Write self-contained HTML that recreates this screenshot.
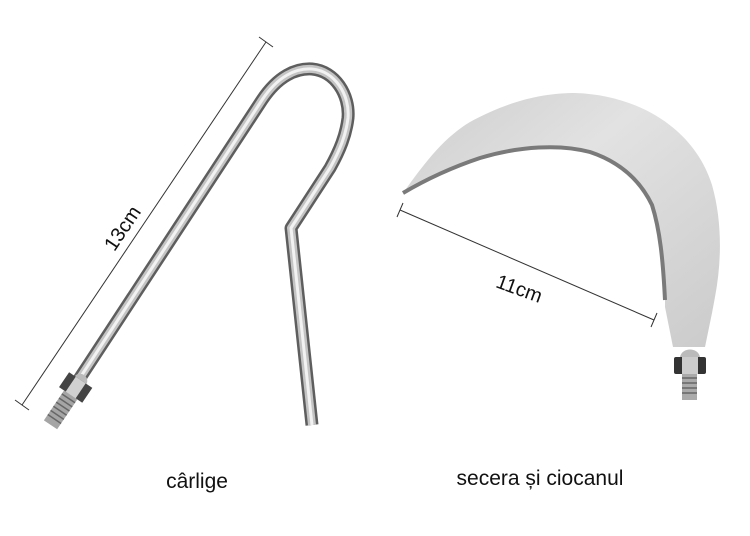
<!DOCTYPE html>
<html><head><meta charset="utf-8"><style>
html,body{margin:0;padding:0;background:#fff;}
svg{display:block;}
text{font-family:"Liberation Sans",sans-serif;fill:#111;}
</style></head><body>
<svg width="750" height="536" viewBox="0 0 750 536" xmlns="http://www.w3.org/2000/svg">
<defs>
<linearGradient id="blade" x1="0" y1="0" x2="1" y2="1">
<stop offset="0" stop-color="#cdcdcd"/><stop offset="0.4" stop-color="#e2e2e2"/><stop offset="1" stop-color="#cbcbcb"/>
</linearGradient>
</defs>
<line x1="22" y1="405" x2="266" y2="42" stroke="#333" stroke-width="1"/>
<line x1="15" y1="400" x2="29" y2="410" stroke="#333" stroke-width="1"/>
<line x1="259" y1="37" x2="273" y2="47" stroke="#333" stroke-width="1"/>
<text x="0" y="0" font-size="20" transform="translate(128,232) rotate(-56)" text-anchor="middle">13cm</text>
<path d="M72,390 L262,100 C278,76 296,68 312,69 C335,71 350,95 348,118 C346,135 340,150 330,168 L291,228 L312,425" fill="none" stroke="#5e5e5e" stroke-width="13" stroke-linejoin="round"/>
<path d="M72,390 L262,100 C278,76 296,68 312,69 C335,71 350,95 348,118 C346,135 340,150 330,168 L291,228 L312,425" fill="none" stroke="#c4c4c4" stroke-width="8" stroke-linejoin="round"/>
<path d="M72,390 L262,100 C278,76 296,68 312,69 C335,71 350,95 348,118 C346,135 340,150 330,168 L291,228 L312,425" fill="none" stroke="#f2f2f2" stroke-width="3" stroke-linejoin="round"/>
<g transform="translate(74,390) rotate(34)">
<path d="M-7,-12 C-6,-20 6,-20 7,-12 Z" fill="#bbb"/>
<rect x="-14" y="-12" width="28" height="18" fill="#444"/>
<rect x="-6" y="-12" width="12" height="18" fill="#d0d0d0"/>
<rect x="-8" y="6" width="16" height="36" fill="#a5a5a5"/>
<path d="M-8,10h16M-8,15h16M-8,20h16M-8,25h16M-8,30h16M-8,35h16" stroke="#666" stroke-width="1.5"/>
</g>
<path d="M403,193 C420,170 440,140 470,122 C510,100 545,93 575,93 C640,95 695,130 712,185 C722,220 722,260 715,297 L712,313 L705,347 L673,347 L665,307 L665,300 C663,260 660,230 652,205 C640,180 620,162 590,152 C560,144 520,146 480,158 C450,168 425,180 403,193 Z" fill="url(#blade)"/>
<path d="M403,193 C425,180 450,168 480,158 C520,146 560,144 590,152 C620,162 640,180 652,205 C660,230 663,260 665,300" fill="none" stroke="#7a7a7a" stroke-width="4"/>
<path d="M680,357 C682,347 698,347 700,357 Z" fill="#bbb"/>
<rect x="674" y="357" width="32" height="17" rx="2" fill="#333"/>
<rect x="682" y="357" width="16" height="17" fill="#ccc"/>
<rect x="682" y="374" width="15" height="26" fill="#aaa"/>
<path d="M682,378h15M682,383h15M682,388h15M682,393h15" stroke="#666" stroke-width="1.5"/>
<line x1="400" y1="210" x2="654" y2="320" stroke="#333" stroke-width="1"/>
<line x1="403" y1="203" x2="397" y2="217" stroke="#333" stroke-width="1"/>
<line x1="657" y1="313" x2="651" y2="327" stroke="#333" stroke-width="1"/>
<text x="0" y="0" font-size="20" transform="translate(517,295) rotate(20)" text-anchor="middle">11cm</text>
<text x="197" y="488" font-size="21" text-anchor="middle">cârlige</text>
<text x="540" y="485" font-size="21" text-anchor="middle">secera și ciocanul</text>
</svg>
</body></html>
